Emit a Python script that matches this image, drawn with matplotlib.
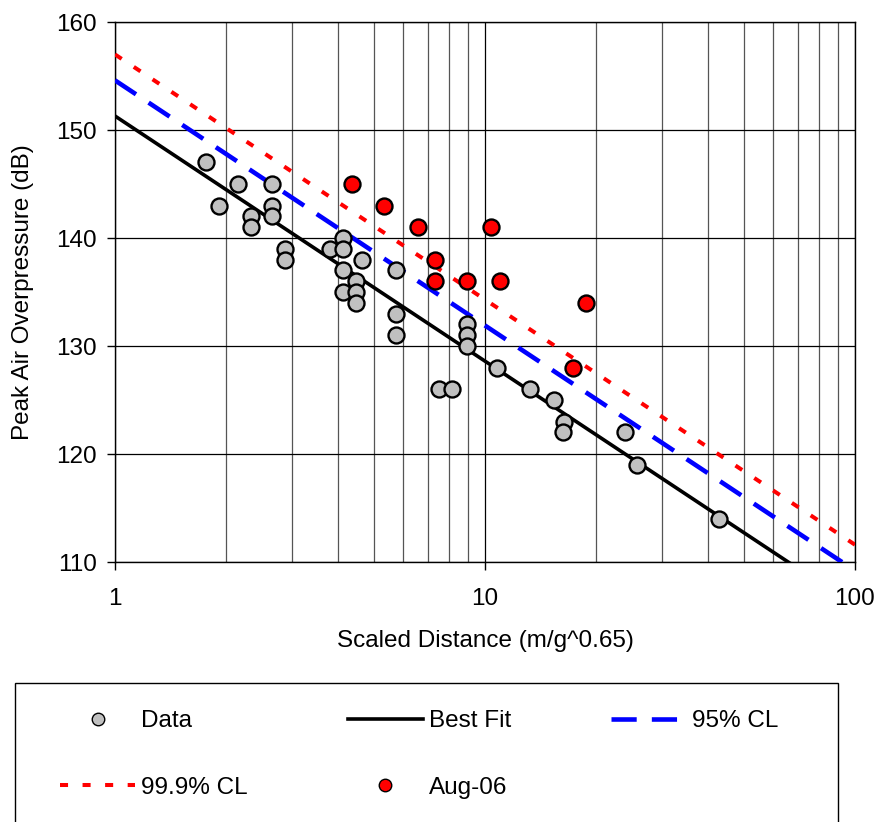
import numpy as np
import matplotlib.pyplot as plt
from matplotlib.lines import Line2D
from matplotlib.patches import Rectangle

plt.rcParams['font.family'] = ['Liberation Sans', 'DejaVu Sans']

# measured blasts (scaled distance, peak overpressure)
data_x = [1.76, 1.91, 2.15, 2.33, 2.33, 2.66, 2.66, 2.66, 2.88, 2.88,
          3.81, 4.13, 4.13, 4.13, 4.13, 4.48, 4.48, 4.48, 4.65, 5.75,
          5.75, 5.75, 7.51, 8.14, 8.94, 8.94, 8.94, 10.8, 13.2, 15.4,
          16.4, 16.2, 23.9, 25.7, 42.9]
data_y = [147, 143, 145, 142, 141, 145, 143, 142, 139, 138,
          139, 140, 139, 137, 135, 136, 135, 134, 138, 137,
          133, 131, 126, 126, 132, 131, 130, 128, 126, 125,
          123, 122, 122, 119, 114]

# August 2006 results
aug_x = [4.37, 5.33, 6.59, 7.32, 7.32, 8.94, 10.4, 11.0, 18.8, 17.3]
aug_y = [145, 143, 141, 138, 136, 136, 141, 136, 134, 128]

# regression lines (end points at x = 1 and x = 100)
line_x = [1, 100]
fit_y = [151.3, 105.9]
cl95_y = [154.6, 109.2]
cl999_y = [157.0, 111.6]

fig = plt.figure(figsize=(8.77, 8.22), dpi=100)
ax = fig.add_axes([0.1311, 0.3163, 0.8438, 0.6569])

ax.set_xscale('log')
ax.set_xlim(1, 100)
ax.set_ylim(110, 160)
ax.set_yticks([110, 120, 130, 140, 150, 160])
ax.set_xticks([1, 10, 100])
ax.set_xticklabels(['1', '10', '100'])
ax.tick_params(axis='x', which='minor', length=0)
ax.tick_params(axis='both', which='major', direction='out', length=6,
               width=1, labelsize=17.5, color='black')
ax.tick_params(axis='y', pad=7)
ax.tick_params(axis='x', pad=13)

ax.grid(True, which='major', color='black', linewidth=0.9)
ax.grid(True, which='minor', axis='x', color='#555555', linewidth=0.9)
ax.set_axisbelow(True)
for s in ax.spines.values():
    s.set_color('black')
    s.set_linewidth(1)

ax.plot(line_x, cl999_y, color='red', linewidth=2.9,
        linestyle=(0, (2.0, 3.6)), label='99.9% CL', zorder=3)
ax.plot(line_x, cl95_y, color='blue', linewidth=3.3,
        linestyle=(0, (5.5, 3.3)), label='95% CL', zorder=3)
ax.plot(line_x, fit_y, color='black', linewidth=2.6, label='Best Fit', zorder=3)

ax.plot(data_x, data_y, 'o', markersize=11.5, markerfacecolor='#c0c0c0',
        markeredgecolor='black', markeredgewidth=1.7, label='Data', zorder=4)
ax.plot(aug_x, aug_y, 'o', markersize=11.5, markerfacecolor='red',
        markeredgecolor='black', markeredgewidth=1.7, label='Aug-06', zorder=4)

ax.set_xlabel('Scaled Distance (m/g^0.65)', fontsize=17.5, labelpad=14)
ax.set_ylabel('Peak Air Overpressure (dB)', fontsize=17.5, labelpad=16)

# legend: frame drawn separately, entries placed without frame
fig.patches.append(Rectangle((0.0171, -0.01), 0.9384, 0.179, fill=False,
                             edgecolor='black', linewidth=1,
                             transform=fig.transFigure, figure=fig))

h = {l: hd for hd, l in zip(*ax.get_legend_handles_labels())}
data_h = Line2D([], [], marker='o', linestyle='none', markersize=9,
                markerfacecolor='#c0c0c0', markeredgecolor='black')
aug_h = Line2D([], [], marker='o', linestyle='none', markersize=9,
               markerfacecolor='red', markeredgecolor='black')
order = [(data_h, 'Data'), (h['99.9% CL'], '99.9% CL'),
         (h['Best Fit'], 'Best Fit'), (aug_h, 'Aug-06'),
         (h['95% CL'], '95% CL')]
leg = fig.legend([o[0] for o in order], [o[1] for o in order], ncol=3,
                 loc='upper left', bbox_to_anchor=(60 / 877, 1 - 710 / 822),
                 fontsize=17.5, frameon=False,
                 handlelength=3.1, handletextpad=0.25, labelspacing=1.85,
                 columnspacing=4.1, borderpad=0, borderaxespad=0)

fig.savefig('out.png', dpi=100)
